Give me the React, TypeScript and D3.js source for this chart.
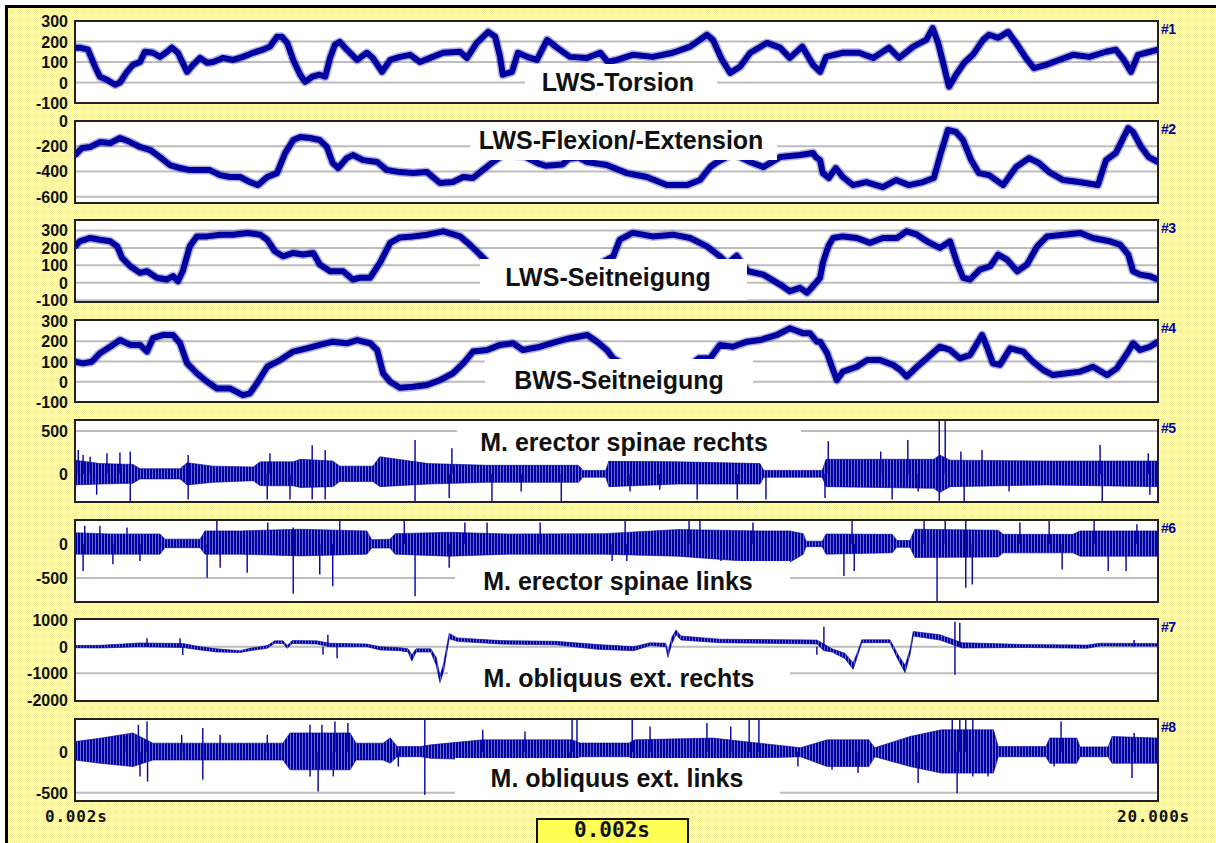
import { useEffect, useRef } from 'react'
import * as d3 from 'd3'

// channel titles, tags and axis setup
const titles = [
  'LWS-Torsion',
  'LWS-Flexion/-Extension',
  'LWS-Seitneigung',
  'BWS-Seitneigung',
  'M. erector spinae rechts',
  'M. erector spinae links',
  'M. obliquus ext. rechts',
  'M. obliquus ext. links',
]
const channelTags = ['#1', '#2', '#3', '#4', '#5', '#6', '#7', '#8']
const yDomains = [
  [-100, 300],
  [-650, 0],
  [-110, 360],
  [-100, 305],
  [-330, 630],
  [-850, 350],
  [-2040, 1040],
  [-600, 400],
]
const yTicks = [
  [300, 200, 100, 0, -100],
  [0, -200, -400, -600],
  [300, 200, 100, 0, -100],
  [300, 200, 100, 0, -100],
  [500, 0],
  [0, -500],
  [1000, 0, -1000, -2000],
  [0, -500],
]
const timeDomain = [0, 20]
const timeLabels = ['0.002s', '20.000s']
const cursorLabel = '0.002s'

// goniometer traces: [seconds, value]
const torsion = [
  [0, 170], [0.09, 170], [0.24, 160], [0.37, 77], [0.46, 28], [0.59, 13], [0.74, -11], [0.83, 0], [0.96, 52], [1.07, 86],
  [1.2, 100], [1.29, 150], [1.44, 145], [1.57, 125], [1.7, 150], [1.79, 170], [1.9, 145], [2.07, 52], [2.18, 86], [2.31, 120],
  [2.44, 96], [2.55, 100], [2.73, 120], [2.92, 110], [3.1, 125], [3.29, 145], [3.47, 160], [3.6, 175], [3.73, 223], [3.82, 223],
  [3.92, 193], [4.03, 110], [4.16, 38], [4.25, 3], [4.38, 28], [4.52, 38], [4.62, 28], [4.71, 120], [4.8, 184], [4.89, 198],
  [5.02, 160], [5.21, 110], [5.39, 145], [5.5, 120], [5.67, 52], [5.82, 110], [6.0, 125], [6.19, 135], [6.37, 100], [6.56, 120],
  [6.8, 145], [7.11, 150], [7.24, 120], [7.42, 193], [7.63, 247], [7.76, 223], [7.85, 125], [7.9, 38], [8.07, 52], [8.18, 145],
  [8.35, 125], [8.53, 110], [8.72, 208], [8.9, 170], [9.14, 125], [9.46, 120], [9.7, 145], [9.84, 100], [10.01, 110], [10.3, 135],
  [10.67, 125], [11.04, 145], [11.36, 175], [11.67, 233], [11.78, 208], [11.95, 110], [12.1, 47], [12.28, 77], [12.47, 145], [12.78, 193],
  [13.02, 170], [13.2, 120], [13.43, 175], [13.63, 86], [13.76, 52], [13.87, 125], [14.18, 145], [14.48, 145], [14.74, 120], [15.03, 170],
  [15.22, 120], [15.48, 175], [15.72, 208], [15.84, 265], [15.94, 193], [16.05, 77], [16.14, -20], [16.27, 38], [16.42, 96], [16.58, 135],
  [16.77, 208], [16.88, 233], [17.05, 218], [17.23, 247], [17.38, 193], [17.56, 120], [17.71, 70], [17.93, 86], [18.17, 110], [18.43, 135],
  [18.73, 125], [19.04, 150], [19.22, 160], [19.37, 110], [19.5, 52], [19.63, 135], [19.78, 145], [20, 160],
]

const flexion = [
  [0, -270], [0.13, -214], [0.28, -206], [0.46, -167], [0.65, -175], [0.83, -135], [1.02, -167], [1.2, -206], [1.39, -230], [1.57, -286],
  [1.75, -349], [1.94, -373], [2.12, -389], [2.31, -389], [2.49, -389], [2.68, -429], [2.86, -444], [3.05, -444], [3.23, -484], [3.38, -508],
  [3.55, -444], [3.73, -413], [3.88, -254], [4.03, -151], [4.16, -127], [4.34, -135], [4.52, -151], [4.65, -206], [4.76, -333], [4.86, -373],
  [5.02, -294], [5.13, -270], [5.32, -310], [5.58, -325], [5.76, -389], [6.0, -405], [6.24, -413], [6.5, -405], [6.74, -492], [6.98, -484],
  [7.17, -444], [7.35, -452], [7.53, -389], [7.72, -325], [7.9, -270], [8.3, -280], [8.55, -335], [8.7, -355], [9.0, -345], [9.12, -300],
  [9.3, -290], [9.46, -325], [9.82, -349], [10.19, -413], [10.56, -444], [10.93, -508], [11.3, -508], [11.54, -468], [11.73, -365], [11.86, -325],
  [12.15, -260], [12.47, -325], [12.71, -365], [13.02, -286], [13.39, -270], [13.63, -254], [13.68, -286], [13.76, -310], [13.81, -413], [13.92, -452],
  [14.05, -373], [14.18, -444], [14.37, -508], [14.61, -484], [14.92, -524], [15.16, -468], [15.4, -508], [15.66, -484], [15.86, -452], [15.99, -254],
  [16.12, -71], [16.27, -87], [16.4, -151], [16.55, -310], [16.69, -413], [16.88, -429], [17.14, -508], [17.38, -365], [17.62, -294], [17.8, -333],
  [17.99, -405], [18.25, -468], [18.54, -484], [18.89, -508], [19.04, -310], [19.22, -254], [19.45, -56], [19.54, -87], [19.69, -206], [19.83, -286],
  [20, -325],
]

const lwsSeitneigung = [
  [0, 209], [0.09, 238], [0.28, 257], [0.46, 247], [0.65, 238], [0.78, 209], [0.87, 143], [1.02, 95], [1.2, 57], [1.33, 66],
  [1.51, 29], [1.7, 19], [1.81, 38], [1.9, 9], [1.99, 66], [2.12, 209], [2.25, 266], [2.44, 266], [2.68, 276], [2.92, 276],
  [3.18, 286], [3.42, 276], [3.55, 247], [3.69, 181], [3.84, 152], [4.03, 171], [4.21, 162], [4.4, 171], [4.52, 105], [4.71, 66],
  [4.95, 66], [5.13, 19], [5.26, 29], [5.45, 29], [5.63, 114], [5.82, 229], [6.0, 260], [6.24, 266], [6.5, 276], [6.8, 295],
  [7.11, 266], [7.29, 219], [7.48, 162], [7.8, 60], [8.6, 10], [9.4, 60], [9.94, 152], [10.06, 247], [10.3, 286], [10.67, 266],
  [11.04, 276], [11.36, 257], [11.67, 209], [11.91, 152], [12.05, 110], [12.22, 155], [12.32, 110], [12.43, 66], [12.71, 47], [13.02, -10],
  [13.2, -48], [13.39, -29], [13.52, -57], [13.63, -19], [13.76, 29], [13.81, 114], [13.91, 209], [14.0, 257], [14.18, 266], [14.44, 257],
  [14.68, 229], [14.92, 257], [15.18, 257], [15.36, 295], [15.55, 276], [15.73, 238], [15.97, 200], [16.16, 238], [16.29, 114], [16.4, 29],
  [16.53, 19], [16.71, 76], [16.9, 95], [17.05, 162], [17.21, 133], [17.4, 66], [17.58, 105], [17.77, 209], [17.95, 266], [18.25, 276],
  [18.56, 286], [18.8, 257], [19.11, 238], [19.3, 219], [19.45, 162], [19.54, 66], [19.67, 47], [19.85, 38], [20, 19],
]

const bwsSeitneigung = [
  [0, 99], [0.15, 91], [0.31, 99], [0.46, 141], [0.65, 173], [0.83, 206], [1.02, 182], [1.2, 182], [1.33, 149], [1.44, 215],
  [1.63, 231], [1.81, 231], [1.94, 190], [2.07, 91], [2.25, 42], [2.44, 0], [2.62, -33], [2.86, -33], [3.1, -66], [3.23, -57],
  [3.36, -8], [3.55, 74], [3.79, 107], [4.03, 149], [4.28, 165], [4.52, 182], [4.76, 198], [5.02, 190], [5.21, 206], [5.45, 190],
  [5.58, 157], [5.69, 42], [5.82, 0], [6.0, -30], [6.24, -25], [6.5, -16], [6.74, 8], [6.98, 42], [7.17, 91], [7.35, 149],
  [7.61, 157], [7.85, 182], [8.09, 190], [8.27, 157], [8.59, 173], [8.9, 198], [9.14, 215], [9.46, 231], [9.64, 198], [9.82, 157],
  [9.94, 116], [10.3, 60], [10.9, 40], [11.4, 90], [11.52, 116], [11.73, 116], [11.91, 182], [12.15, 173], [12.41, 198], [12.65, 206],
  [12.96, 231], [13.2, 264], [13.44, 240], [13.57, 240], [13.7, 198], [13.76, 198], [13.89, 141], [14.0, 58], [14.07, 8], [14.18, 50],
  [14.44, 74], [14.63, 107], [14.87, 107], [15.11, 83], [15.24, 58], [15.36, 25], [15.55, 74], [15.73, 116], [15.97, 173], [16.16, 157],
  [16.34, 116], [16.53, 132], [16.66, 190], [16.75, 231], [16.84, 173], [16.95, 91], [17.08, 83], [17.27, 165], [17.51, 149], [17.69, 99],
  [17.88, 58], [18.06, 33], [18.32, 42], [18.56, 50], [18.8, 74], [19.06, 33], [19.24, 66], [19.43, 141], [19.54, 190], [19.67, 157],
  [19.85, 173], [20, 198],
]

// EMG channels: envelope [seconds, low, high] and single spikes [seconds, value]
const esRechtsBand = [
  [0, -130, 160], [0.46, -120, 120], [1.07, -110, 110], [1.2, -60, 60], [1.94, -60, 60], [2.07, -130, 130], [2.55, -100, 90],
  [3.29, -80, 80], [3.42, -140, 140], [4.03, -140, 140], [4.16, -160, 170], [4.76, -150, 150], [4.89, -90, 90], [5.5, -90, 90],
  [5.63, -150, 200], [6.52, -120, 120], [7.61, -100, 100], [9.3, -100, 100], [9.38, -40, 40], [9.8, -40, 40], [9.86, -150, 150],
  [11.14, -120, 140], [12.65, -120, 120], [12.72, -40, 40], [13.8, -40, 40], [13.87, -150, 170], [15.86, -170, 170],
  [15.97, -220, 220], [16.16, -150, 160], [17.93, -130, 150], [20, -150, 150],
]
const esRechtsSpikes = [
  [0.06, 280], [0.15, 220], [0.28, 200], [0.4, -244], [0.59, 240], [0.83, 250], [1.02, 260], [1.02, -320], [2.09, 220],
  [2.09, -300], [3.55, -300], [3.6, 240], [3.97, -300], [4.38, 335], [4.38, -300], [4.62, 280], [4.62, -300], [6.28, 395],
  [6.28, -322], [6.91, -283], [6.96, 299], [7.7, -322], [8.24, -206], [8.98, -322], [10.25, -206], [10.8, -186], [11.49, -302],
  [12.23, -302], [12.76, -302], [13.85, -283], [13.91, 380], [14.88, 260], [15.09, -302], [15.38, 395], [15.57, -206],
  [15.96, 628], [15.96, -322], [16.07, 628], [16.36, 260], [16.42, -322], [16.75, 279], [17.25, -206], [18.93, 337],
  [18.97, -322], [19.82, 240], [19.85, -244],
]

const esLinksBand = [
  [0, -150, 165], [0.65, -150, 145], [1.57, -150, 145], [1.66, -55, 70], [2.31, -55, 70], [2.4, -150, 190], [3.05, -150, 190],
  [4.16, -175, 215], [5.39, -150, 190], [5.48, -60, 60], [5.82, -60, 70], [5.91, -150, 150], [6.91, -180, 170], [8.0, -150, 145],
  [9.77, -150, 150], [11.14, -180, 210], [12.65, -270, 190], [13.2, -270, 190], [13.45, -150, 150], [13.5, -40, 40],
  [13.8, -40, 40], [13.87, -150, 145], [15.09, -130, 140], [15.18, -50, 50], [15.42, -50, 50], [15.51, -200, 215],
  [17.05, -190, 200], [17.14, -130, 140], [18.43, -130, 140], [18.56, -180, 190], [20, -180, 190],
]
const esLinksSpikes = [
  [0.15, -397], [0.18, 265], [0.46, 265], [0.7, -299], [0.96, 240], [1.2, -250], [2.44, -495], [2.62, 348], [2.68, -348],
  [3.18, -422], [3.56, 313], [4.03, -730], [4.03, 240], [4.52, -446], [4.76, -618], [4.89, 348], [6.08, 338], [6.28, -765],
  [6.91, -348], [7.2, 314], [7.61, 314], [8.59, 314], [9.92, -348], [10.16, 338], [10.19, -348], [11.34, 338], [11.54, 348],
  [11.93, -299], [12.52, 314], [14.2, -471], [14.35, 338], [14.39, -397], [15.68, 338], [15.92, -860], [16.07, 338],
  [16.45, 338], [16.45, -642], [16.57, -593], [17.45, 314], [17.99, 338], [18.23, -373], [18.82, 338], [19.08, -397],
  [19.41, -397], [19.61, 289],
]

const oeRechtsBand = [
  [0, -40, 40], [0.46, -50, 50], [1.2, 0, 140], [1.99, -30, 120], [2.31, -120, 0], [2.62, -200, -80], [3.05, -220, -150],
  [3.23, -150, -60], [3.55, -60, 40], [3.69, 130, 220], [3.84, 120, 220], [3.92, -60, 40], [4.01, 120, 230], [4.46, 100, 220],
  [4.71, 0, 130], [5.39, 0, 100], [5.63, -120, 0], [6.0, -150, -40], [6.15, -200, -80], [6.22, -540, -300], [6.3, -200, -80],
  [6.57, -200, -80], [6.67, -700, -400], [6.74, -1350, -1100], [6.81, -900, -600], [6.91, 300, 500], [7.06, 200, 330],
  [7.85, 100, 230], [8.88, 70, 200], [9.66, -100, 80], [10.32, -150, 0], [10.62, 40, 150], [10.91, 0, 130], [10.95, -400, -200],
  [11.02, 100, 350], [11.1, 450, 630], [11.19, 250, 400], [11.91, 150, 280], [13.7, 100, 250], [13.83, -150, 100],
  [13.98, -200, -80], [14.22, -450, -250], [14.37, -850, -600], [14.46, -300, -150], [14.53, 150, 260], [15.05, 150, 260],
  [15.2, -500, -300], [15.33, -975, -700], [15.42, -300, -100], [15.48, 400, 570], [15.97, 250, 450], [16.18, 100, 300],
  [16.38, -50, 150], [17.54, -30, 80], [18.69, -60, 60], [18.93, 30, 130], [20, 20, 120],
]
const oeRechtsSpikes = [
  [1.33, 321], [1.94, 321], [1.99, -310], [4.58, -300], [4.67, 444], [4.84, -430], [13.7, -300], [13.83, 752],
  [16.25, 937], [16.25, -1050], [16.34, 900], [19.56, 250],
]

const oeLinksBand = [
  [0, -100, 125], [0.46, -140, 165], [1.07, -180, 230], [1.44, -100, 105], [3.84, -100, 105], [3.97, -220, 230],
  [5.08, -220, 230], [5.19, -100, 105], [5.69, -100, 105], [5.82, -140, 170], [5.95, -60, 65], [6.39, -60, 65],
  [6.57, -80, 85], [7.53, -98, 146], [9.18, -98, 146], [9.33, -60, 106], [10.23, -60, 106], [10.34, -98, 146],
  [11.78, -98, 167], [13.4, -60, 50], [13.89, -180, 146], [14.66, -180, 146], [14.77, -60, 50], [15.42, -179, 187],
  [16.0, -260, 268], [16.96, -260, 268], [17.05, -60, 65], [17.93, -60, 65], [18.0, -140, 167], [18.5, -140, 167],
  [18.56, -60, 60], [19.08, -60, 60], [19.15, -140, 187], [20, -140, 167],
]
const oeLinksSpikes = [
  [0.92, 187], [1.17, 329], [1.2, -301], [1.33, 370], [1.34, -362], [1.97, 207], [2.36, 289], [2.36, -341], [2.68, 207],
  [3.55, 207], [4.34, 329], [4.34, -301], [4.49, -484], [4.56, 329], [4.77, -301], [4.8, 370], [5.04, 350], [5.97, -180],
  [6.46, 399], [6.46, -524], [7.53, 268], [8.31, 248], [9.12, -118], [9.18, 390], [9.27, 390], [10.29, 390], [10.62, 309],
  [11.67, 350], [12.11, 309], [12.45, 390], [12.63, 390], [13.35, -179], [13.98, -220], [14.46, -260], [15.57, -382],
  [16.2, 411], [16.29, -504], [16.34, 411], [16.45, 411], [16.58, 411], [16.58, -301], [16.86, -301], [18.08, -179],
  [18.21, 370], [19.52, -321], [19.56, 228], [19.85, -138],
]

const channels = [
  { line: torsion },
  { line: flexion },
  { line: lwsSeitneigung },
  { line: bwsSeitneigung },
  { band: esRechtsBand, spikes: esRechtsSpikes },
  { band: esLinksBand, spikes: esLinksSpikes },
  { band: oeRechtsBand, spikes: oeRechtsSpikes },
  { band: oeLinksBand, spikes: oeLinksSpikes },
]

// layout of the screen
const W = 1216
const H = 843
const PLOT_X0 = 75
const PLOT_X1 = 1158
const PANEL_TOP = 21
const PANEL_STEP = 99.7
const PANEL_H = 82
const labelCenters = [[618, 82], [621, 140], [608, 277], [619, 380], [624, 442], [618, 581], [619, 678], [617, 778]]
const labelBoxes = [
  [525, 717, 64, 101], [470, 777, 122, 160], [480, 747, 259, 300], [485, 753, 359, 401],
  [457, 801, 421, 461], [455, 790, 561, 600], [448, 790, 658, 698], [455, 780, 758, 799],
]
const TRACE = '#0000a0'

export default function App() {
  const svgRef = useRef(null)

  useEffect(() => {
    if (!svgRef.current) return
    const svg = d3.select(svgRef.current)
    svg.selectAll('*').remove()

    const defs = svg.append('defs')
    const pat = defs
      .append('pattern')
      .attr('id', 'hatch')
      .attr('width', 2)
      .attr('height', 2)
      .attr('patternUnits', 'userSpaceOnUse')
    pat.append('rect').attr('width', 2).attr('height', 2).attr('fill', '#ffffc8')
    pat.append('rect').attr('width', 1).attr('height', 1).attr('fill', '#f7f29a')
    pat.append('rect').attr('x', 1).attr('y', 1).attr('width', 1).attr('height', 1).attr('fill', '#f7f29a')

    // dense vertical strokes for the EMG envelope
    const emg = defs
      .append('pattern')
      .attr('id', 'emg')
      .attr('width', 3)
      .attr('height', 4)
      .attr('patternUnits', 'userSpaceOnUse')
    emg.append('rect').attr('width', 3).attr('height', 4).attr('fill', '#6a6ad0')
    emg.append('rect').attr('width', 2).attr('height', 4).attr('fill', TRACE)

    svg.append('rect').attr('width', W).attr('height', H).attr('fill', '#fff')
    svg.append('rect').attr('x', 6).attr('y', 6).attr('width', W - 6).attr('height', H - 6).attr('fill', 'url(#hatch)')
    svg
      .append('path')
      .attr('d', `M6.5,${H} V6.5 H${W}`)
      .attr('fill', 'none')
      .attr('stroke', '#000')
      .attr('stroke-width', 3)

    const x = d3.scaleLinear().domain(timeDomain).range([PLOT_X0, PLOT_X1])

    channels.forEach((ch, i) => {
      const top = Math.round(PANEL_TOP + i * PANEL_STEP)
      const bottom = top + PANEL_H
      const y = d3.scaleLinear().domain(yDomains[i]).range([bottom, top])
      const g = svg.append('g')

      defs
        .append('clipPath')
        .attr('id', `clip${i}`)
        .append('rect')
        .attr('x', PLOT_X0)
        .attr('y', top)
        .attr('width', PLOT_X1 - PLOT_X0)
        .attr('height', PANEL_H)

      g.append('rect')
        .attr('x', PLOT_X0)
        .attr('y', top)
        .attr('width', PLOT_X1 - PLOT_X0)
        .attr('height', PANEL_H)
        .attr('fill', '#fff')

      // grid
      g.selectAll('.grid')
        .data(yTicks[i].filter((t) => y(t) > top + 1.5 && y(t) < bottom - 1.5))
        .enter()
        .append('line')
        .attr('x1', PLOT_X0)
        .attr('x2', PLOT_X1)
        .attr('y1', (d) => y(d))
        .attr('y2', (d) => y(d))
        .attr('stroke', '#bdbdbd')
        .attr('stroke-width', 2)

      const plot = g.append('g').attr('clip-path', `url(#clip${i})`)

      if (ch.line) {
        const line = d3
          .line()
          .x((d) => x(d[0]))
          .y((d) => y(d[1]))
        // soft halo gives the noisy edge of the recorded trace
        plot
          .append('path')
          .attr('d', line(ch.line))
          .attr('fill', 'none')
          .attr('stroke', TRACE)
          .attr('stroke-opacity', 0.3)
          .attr('stroke-width', 9)
          .attr('stroke-linejoin', 'round')
        plot
          .append('path')
          .attr('d', line(ch.line))
          .attr('fill', 'none')
          .attr('stroke', TRACE)
          .attr('stroke-width', 6)
          .attr('stroke-linejoin', 'round')
          .attr('stroke-linecap', 'round')
      } else {
        const area = d3
          .area()
          .x((d) => x(d[0]))
          .y0((d) => y(d[1]))
          .y1((d) => y(d[2]))
        plot
          .append('path')
          .attr('d', area(ch.band))
          .attr('fill', 'url(#emg)')
          .attr('stroke', TRACE)
          .attr('stroke-opacity', 0.6)
          .attr('stroke-width', 1)
        plot
          .selectAll('.spike')
          .data(ch.spikes)
          .enter()
          .append('line')
          .attr('x1', (d) => x(d[0]))
          .attr('x2', (d) => x(d[0]))
          .attr('y1', y(0))
          .attr('y2', (d) => y(d[1]))
          .attr('stroke', TRACE)
          .attr('stroke-width', 1.4)
      }

      // channel title on a white plate that hides the trace beneath
      const [bx0, bx1, by0, by1] = labelBoxes[i]
      g.append('rect')
        .attr('x', bx0)
        .attr('y', by0)
        .attr('width', bx1 - bx0)
        .attr('height', by1 - by0)
        .attr('fill', '#fff')
      g.append('text')
        .attr('x', labelCenters[i][0])
        .attr('y', labelCenters[i][1] + 9)
        .attr('text-anchor', 'middle')
        .attr('font-family', '"Liberation Sans", Arial, sans-serif')
        .attr('font-weight', 'bold')
        .attr('font-size', 25)
        .attr('fill', '#111')
        .text(titles[i])

      // frame
      g.append('rect')
        .attr('x', PLOT_X0)
        .attr('y', top)
        .attr('width', PLOT_X1 - PLOT_X0)
        .attr('height', PANEL_H)
        .attr('fill', 'none')
        .attr('stroke', '#222')
        .attr('stroke-width', 2)

      // y tick labels
      g.selectAll('.tick')
        .data(yTicks[i])
        .enter()
        .append('text')
        .attr('x', 68)
        .attr('y', (d) => y(d) + 6)
        .attr('text-anchor', 'end')
        .attr('font-family', '"Liberation Sans", Arial, sans-serif')
        .attr('font-weight', 'bold')
        .attr('font-size', 16)
        .attr('fill', '#111')
        .text((d) => String(d))

      g.append('text')
        .attr('x', 1161)
        .attr('y', top + 13)
        .attr('font-family', '"Liberation Sans", Arial, sans-serif')
        .attr('font-weight', 'bold')
        .attr('font-size', 14)
        .attr('letter-spacing', -0.5)
        .attr('fill', TRACE)
        .text(channelTags[i])
    })

    // time axis ends
    const mono = '"DejaVu Sans Mono", monospace'
    svg
      .append('text')
      .attr('x', 45)
      .attr('y', 822)
      .attr('font-family', mono)
      .attr('font-weight', 'bold')
      .attr('font-size', 16)
      .attr('letter-spacing', 0.8)
      .attr('fill', '#111')
      .text(timeLabels[0])
    svg
      .append('text')
      .attr('x', 1190)
      .attr('y', 822)
      .attr('text-anchor', 'end')
      .attr('font-family', mono)
      .attr('font-weight', 'bold')
      .attr('font-size', 16)
      .attr('letter-spacing', 0.8)
      .attr('fill', '#111')
      .text(timeLabels[1])

    // cursor readout
    svg
      .append('rect')
      .attr('x', 537)
      .attr('y', 819)
      .attr('width', 151)
      .attr('height', 30)
      .attr('fill', '#ffff55')
      .attr('stroke', '#111')
      .attr('stroke-width', 2)
    svg
      .append('text')
      .attr('x', 612)
      .attr('y', 837)
      .attr('text-anchor', 'middle')
      .attr('font-family', mono)
      .attr('font-weight', 'bold')
      .attr('font-size', 21)
      .attr('fill', '#111')
      .text(cursorLabel)
  }, [])

  return (
    <svg
      ref={svgRef}
      width={W}
      height={H}
      style={{ position: 'absolute', left: 0, top: 0, display: 'block' }}
    ></svg>
  )
}
